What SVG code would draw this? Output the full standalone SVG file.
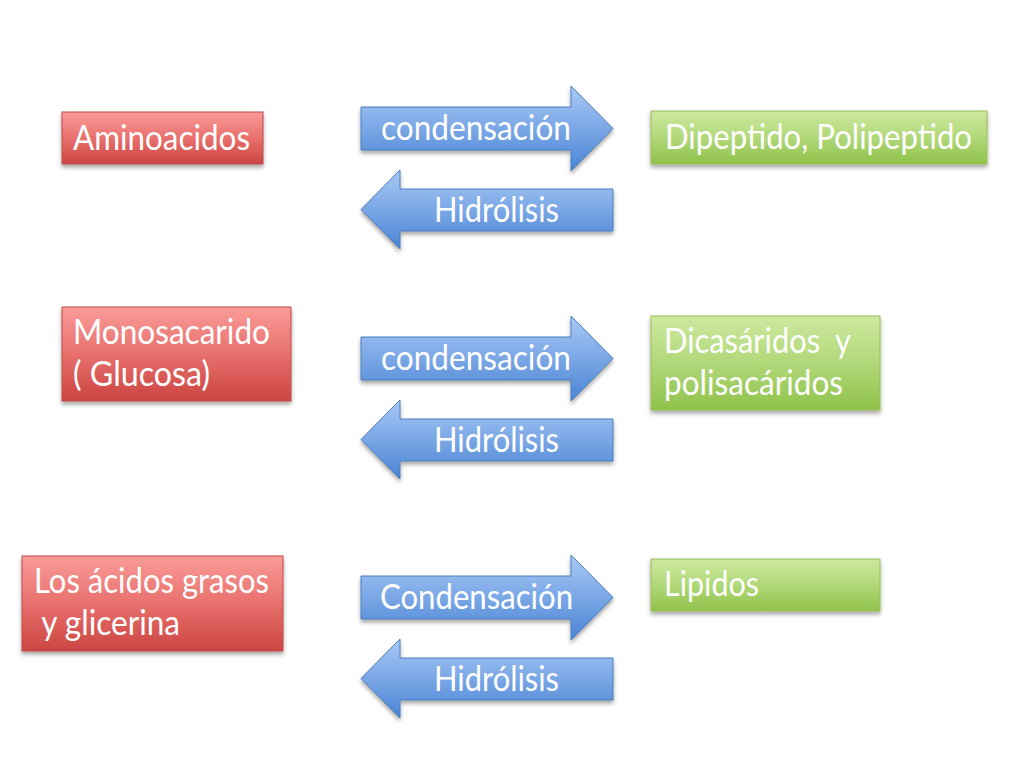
<svg xmlns="http://www.w3.org/2000/svg" xmlns:xlink="http://www.w3.org/1999/xlink" width="1024" height="768" viewBox="0 0 1024 768">
  <style>
    .lbl { font-family: Lato, "Open Sans", "Liberation Sans", sans-serif; font-size: 34px; fill: #ffffff; }
    .red { fill: url(#gRed); stroke: #bf4a47; stroke-width: 1; }
    .green { fill: url(#gGreen); stroke: #9abb59; stroke-width: 1; }
    .blue { fill: url(#gBlue); stroke: #4a7ebb; stroke-width: 1; }
    .sh { filter: url(#shadow); }
  </style>
  <defs>
    <linearGradient id="gRed" x1="0" y1="0" x2="0" y2="1">
      <stop offset="0" stop-color="#fa9c99"/>
      <stop offset="0.5" stop-color="#e8706d"/>
      <stop offset="1" stop-color="#cb4542"/>
    </linearGradient>
    <linearGradient id="gGreen" x1="0" y1="0" x2="0" y2="1">
      <stop offset="0" stop-color="#cde99f"/>
      <stop offset="0.5" stop-color="#b1d879"/>
      <stop offset="1" stop-color="#8fc24a"/>
    </linearGradient>
    <linearGradient id="gBlue" x1="0" y1="0" x2="0" y2="1">
      <stop offset="0" stop-color="#a9c9f5"/>
      <stop offset="0.5" stop-color="#7aa7e6"/>
      <stop offset="1" stop-color="#4a84d4"/>
    </linearGradient>
    <filter id="shadow" x="-10%" y="-20%" width="120%" height="150%">
      <feDropShadow dx="0" dy="3" stdDeviation="2" flood-color="#000000" flood-opacity="0.35"/>
    </filter>
    <path id="arrowR" d="M361,107 H571 V86 L613,128.5 L571,171 V150 H361 Z"/>
    <path id="arrowL" d="M613,189 H400 V170 L361,209.5 L400,249 V231 H613 Z"/>
  </defs>
  <rect width="1024" height="768" fill="#ffffff"/>

  <g id="connectors">
    <g id="arrow-cond-1">
      <use xlink:href="#arrowR" class="blue sh"/>
      <text class="lbl" x="381" y="140" textLength="190" lengthAdjust="spacingAndGlyphs">condensación</text>
    </g>
    <g id="arrow-hidr-1">
      <use xlink:href="#arrowL" class="blue sh"/>
      <text class="lbl" x="434" y="222" textLength="125" lengthAdjust="spacingAndGlyphs">Hidrólisis</text>
    </g>
    <g id="arrow-cond-2">
      <use xlink:href="#arrowR" class="blue sh" transform="translate(0,230)"/>
      <text class="lbl" x="381" y="370" textLength="190" lengthAdjust="spacingAndGlyphs">condensación</text>
    </g>
    <g id="arrow-hidr-2">
      <use xlink:href="#arrowL" class="blue sh" transform="translate(0,230)"/>
      <text class="lbl" x="434" y="452" textLength="125" lengthAdjust="spacingAndGlyphs">Hidrólisis</text>
    </g>
    <g id="arrow-cond-3">
      <use xlink:href="#arrowR" class="blue sh" transform="translate(0,469)"/>
      <text class="lbl" x="380" y="609" textLength="193" lengthAdjust="spacingAndGlyphs">Condensación</text>
    </g>
    <g id="arrow-hidr-3">
      <use xlink:href="#arrowL" class="blue sh" transform="translate(0,469)"/>
      <text class="lbl" x="434" y="691" textLength="125" lengthAdjust="spacingAndGlyphs">Hidrólisis</text>
    </g>
  </g>

  <g id="aminoacidos">
    <rect class="red sh" x="62" y="112" width="201" height="52"/>
    <text class="lbl" x="73" y="150" textLength="177" lengthAdjust="spacingAndGlyphs">Aminoacidos</text>
  </g>
  <g id="dipeptido">
    <rect class="green sh" x="651" y="111" width="336" height="53"/>
    <text class="lbl" x="665" y="149" textLength="307" lengthAdjust="spacingAndGlyphs">Dipeptido, Polipeptido</text>
  </g>
  <g id="monosacarido">
    <rect class="red sh" x="62" y="307" width="229" height="94"/>
    <text class="lbl" x="73" y="344" textLength="197" lengthAdjust="spacingAndGlyphs">Monosacarido</text>
    <text class="lbl" x="73" y="386" textLength="137" lengthAdjust="spacingAndGlyphs">( Glucosa)</text>
  </g>
  <g id="dicasaridos">
    <rect class="green sh" x="651" y="316" width="229" height="94"/>
    <text class="lbl" x="664" y="353" textLength="187" lengthAdjust="spacingAndGlyphs" xml:space="preserve">Dicasáridos  y</text>
    <text class="lbl" x="664" y="395" textLength="179" lengthAdjust="spacingAndGlyphs">polisacáridos</text>
  </g>
  <g id="acidos-grasos">
    <rect class="red sh" x="22" y="556" width="261" height="95"/>
    <text class="lbl" x="34" y="593" textLength="235" lengthAdjust="spacingAndGlyphs">Los ácidos grasos</text>
    <text class="lbl" x="34" y="635" textLength="146" lengthAdjust="spacingAndGlyphs" xml:space="preserve"> y glicerina</text>
  </g>
  <g id="lipidos">
    <rect class="green sh" x="651" y="559" width="229" height="52"/>
    <text class="lbl" x="664" y="596" textLength="95" lengthAdjust="spacingAndGlyphs">Lipidos</text>
  </g>
</svg>
